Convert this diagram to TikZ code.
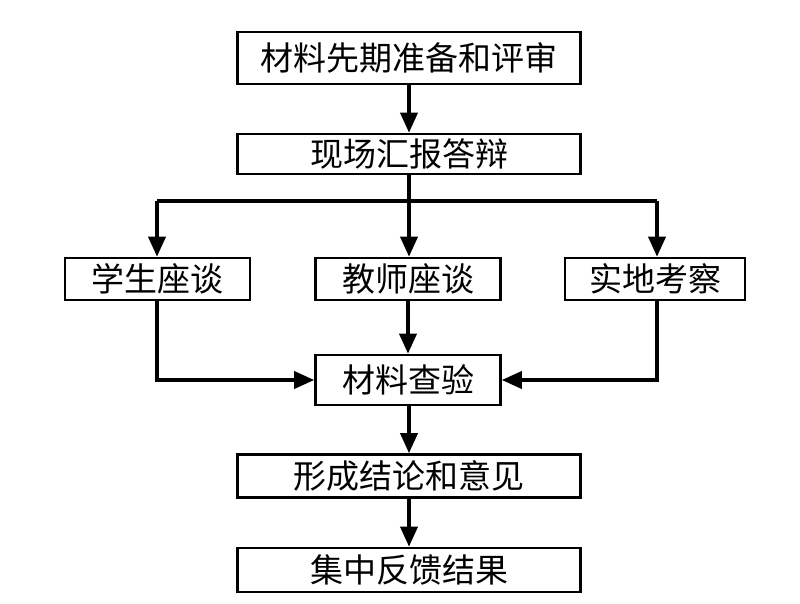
\documentclass[tikz,border=0pt]{standalone}
\usepackage{fontspec}
\newfontfamily\cjk{Noto Sans CJK SC}
\usetikzlibrary{arrows.meta}
\begin{document}
\begin{tikzpicture}[x=1pt,y=-1pt,
  box/.style={draw=black,line width=2.6pt,fill=white,inner sep=0pt,font=\cjk\fontsize{33}{33}\selectfont},
  wide/.style={box,minimum width=343pt},
  narrow/.style={box,minimum width=185pt},
  conn/.style={line width=3.6pt,-{Triangle[width=17pt,length=20pt]}},
  plain/.style={line width=3.6pt}]
\useasboundingbox (0,0) rectangle (800,603);
\node[wide,minimum height=52pt] (a) at (409,58) {材料先期准备和评审};
\node[wide,minimum height=40pt] (b) at (409,154) {现场汇报答辩};
\node[narrow,minimum height=42pt] (s) at (157.5,279) {学生座谈};
\node[narrow,minimum height=42pt] (t) at (408,279) {教师座谈};
\node[box,minimum width=180pt,minimum height=42pt] (f) at (655,279) {实地考察};
\node[narrow,minimum height=50pt] (m) at (408,380) {材料查验};
\node[wide,minimum height=43pt] (c) at (409,476) {形成结论和意见};
\node[wide,minimum height=44pt] (d) at (409,570) {集中反馈结果};
\coordinate (j) at (409,201);
\draw[conn] (a) -- (b);
\draw[plain] (b.south -| j) -- (j);
\draw[line width=3.6pt] (157,201) -- (657,201);
\draw[conn] (j) -- (j |- t.north);
\draw[conn] (157,201) -- (s.north -| 157,0);
\draw[conn] (657,201) -- (f.north -| 657,0);
\draw[conn] (t) -- (m);
\draw[conn] (s.south -| 157,0) |- (m.west);
\draw[conn] (f.south -| 657,0) |- (m.east);
\draw[conn] (m.south -| j) -- (c.north -| j);
\draw[conn] (c) -- (d);
\end{tikzpicture}
\end{document}
